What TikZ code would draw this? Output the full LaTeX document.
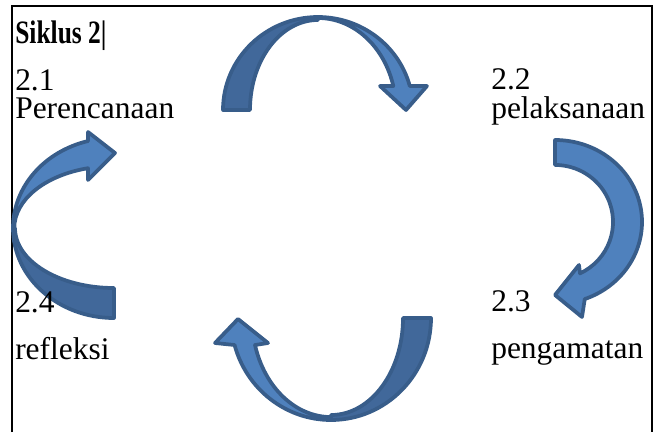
\documentclass[tikz,border=0pt]{standalone}
\usepackage{fontspec}
\setmainfont{Liberation Serif}
\definecolor{panahdepan}{HTML}{4F81BD}
\definecolor{panahbelakang}{HTML}{41689A}
\definecolor{panahgaris}{HTML}{385D8A}

\begin{document}
\begin{tikzpicture}[x=0.75pt,y=-0.75pt]

\tikzset{depan/.style={fill=panahdepan, draw=panahgaris, line width=2.8pt, line join=round},
belakang/.style={depan, fill=panahbelakang},
teks/.style={inner sep=0pt, anchor=base west, align=left, font=\fontsize{23.6}{21}\selectfont}}

\useasboundingbox (0,0) rectangle (659,432);
\draw[line width=1.6pt] (12,432) -- (12,6) -- (652,6) -- (652,432);

% panah atas
\draw[belakang] (223,110) arc[start angle=180, end angle=270, x radius=95, y radius=93]
  -- (318,20) arc[start angle=270, end angle=180, x radius=68, y radius=90] -- cycle;
\draw[depan] (318,17) arc[start angle=270, end angle=345.05, x radius=95, y radius=93]
  -- (427,86) -- (406,110) -- (380,86) -- (393.3,86)
  arc[start angle=344.88, end angle=270, x radius=78, y radius=92] -- cycle;

% panah kanan
\draw[depan] (555,140) arc[start angle=-90, end angle=70, x radius=87, y radius=82]
  -- (582,317) -- (555,295) -- (579,265) -- (580,273.4)
  arc[start angle=64.5, end angle=-90, x radius=58, y radius=57] -- cycle;

% panah bawah
\draw[belakang] (431,318) arc[start angle=0, end angle=90, x radius=100, y radius=102]
  -- (331,415) arc[start angle=90, end angle=0, x radius=72, y radius=97] -- cycle;
\draw[depan] (331,420) arc[start angle=90, end angle=164.65, x radius=100, y radius=102]
  -- (215,343) -- (238,319) -- (268,343) -- (255,345)
  arc[start angle=164.2, end angle=90, x radius=79, y radius=99] -- cycle;

% panah kiri
\draw[belakang] (114,318) arc[start angle=90, end angle=180, x radius=101, y radius=90]
  -- (15,228) arc[start angle=180, end angle=90, x radius=99, y radius=60] -- cycle;
\draw[depan] (13,228) arc[start angle=180, end angle=255.1, x radius=101, y radius=90]
  -- (88,132) -- (115,153) -- (88,180) -- (88,168.2)
  arc[start angle=255.2, end angle=180, x radius=99, y radius=62] -- cycle;

\node[teks, font=\fontsize{24.5}{21}\selectfont\bfseries] (judul) at (15,43) {\scalebox{0.78}[1]{Siklus 2|}};
\node[teks] (rencana) at (15,118) {2.1\\Perencanaan};
\node[teks] (laksana) at (491,118) {2.2\\[0.75pt]pelaksanaan};
\node[teks] (amat) at (491,358) {2.3\\[14.25pt]pengamatan};
\node[teks] (refleksi) at (15,359) {2.4\\[14.25pt]refleksi};

\end{tikzpicture}
\end{document}
